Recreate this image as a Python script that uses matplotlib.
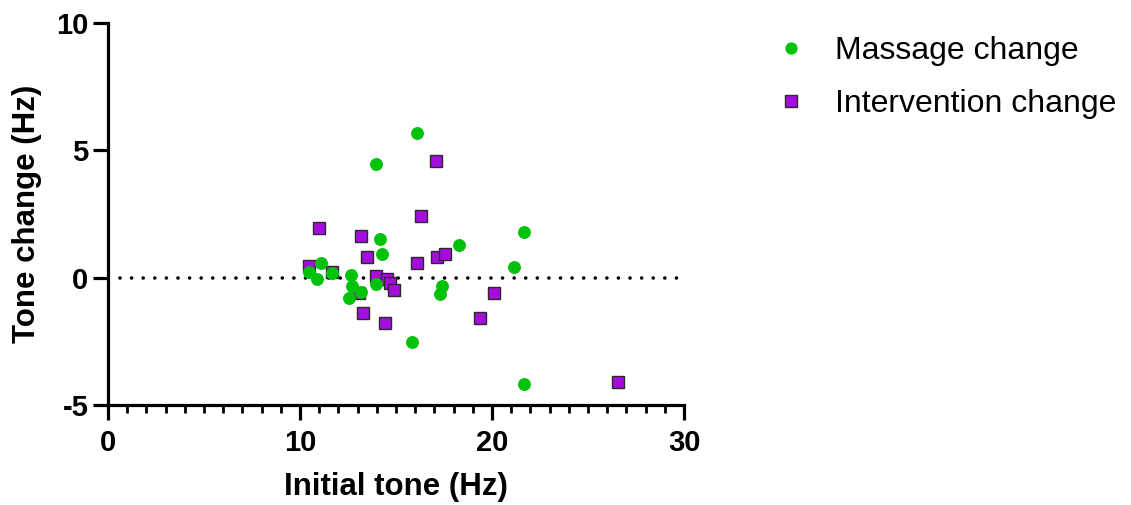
import matplotlib
matplotlib.use("Agg")
import matplotlib.pyplot as plt
from matplotlib.ticker import MultipleLocator

plt.rcParams['font.family'] = ['Liberation Sans', 'DejaVu Sans']
plt.rcParams['axes.unicode_minus'] = False

# Massage change (green circles)
massage_x = [16.07, 13.94, 14.18, 14.29, 18.26, 21.64, 21.17, 11.09, 10.49, 10.89,
             11.68, 12.66, 12.69, 13.18, 12.57, 13.94, 15.83, 17.38, 17.29, 21.67]
massage_y = [5.67, 4.45, 1.51, 0.94, 1.27, 1.81, 0.41, 0.59, 0.24, -0.05,
             0.17, 0.11, -0.31, -0.55, -0.78, -0.24, -2.52, -0.31, -0.64, -4.19]

# Intervention change (purple squares)
interv_x = [17.08, 16.29, 10.99, 13.18, 13.47, 16.07, 17.15, 17.53, 10.45, 11.65,
            13.07, 13.96, 14.51, 14.69, 14.88, 13.28, 14.43, 20.09, 19.38, 26.56]
interv_y = [4.58, 2.43, 1.94, 1.64, 0.80, 0.59, 0.83, 0.93, 0.46, 0.24,
            -0.61, 0.07, -0.05, -0.22, -0.48, -1.37, -1.77, -0.59, -1.58, -4.11]

fig = plt.figure(figsize=(11.31, 5.05), dpi=100)
ax = fig.add_axes([0.0955, 0.198, 0.5093, 0.7565])

# zero reference line
ax.plot([0.6, 30], [0, 0], color='black', lw=2.6, linestyle=(0, (0.01, 3.2)),
        dash_capstyle='round', zorder=1)

ax.plot(interv_x, interv_y, linestyle='none', marker='s', markersize=8.7,
        markerfacecolor='#A50DDC', markeredgecolor='#2a2a2a', markeredgewidth=1.0,
        label='Intervention change', zorder=3)
ax.plot(massage_x, massage_y, linestyle='none', marker='o', markersize=9.3,
        markerfacecolor='#00C20A', markeredgecolor='none',
        label='Massage change', zorder=4)

ax.set_xlim(0, 30)
ax.set_ylim(-5, 10)
ax.set_xticks([0, 10, 20, 30])
ax.set_yticks([-5, 0, 5, 10])
ax.xaxis.set_minor_locator(MultipleLocator(1))

for s in ['top', 'right']:
    ax.spines[s].set_visible(False)
for s in ['left', 'bottom']:
    ax.spines[s].set_linewidth(2.3)

ax.tick_params(axis='both', which='major', width=2.3, length=11, labelsize=21)
ax.tick_params(axis='x', which='major', pad=6)
ax.tick_params(axis='y', which='major', pad=3)
ax.tick_params(axis='x', which='minor', width=2.0, length=6)
for lab in ax.get_xticklabels() + ax.get_yticklabels():
    lab.set_fontweight('bold')

ax.set_xlabel('Initial tone (Hz)', fontsize=22.5, fontweight='bold', labelpad=11)
ax.set_ylabel('Tone change (Hz)', fontsize=22.5, fontweight='bold', labelpad=10)

handles, labels = ax.get_legend_handles_labels()
fig.legend(handles[::-1], labels[::-1], loc='upper left', bbox_to_anchor=(0.685, 0.928),
           frameon=False, fontsize=23, handlelength=1.0, handletextpad=0.9,
           labelspacing=0.72, borderpad=0, borderaxespad=0, markerscale=0.95)

fig.savefig('out.png', dpi=100)
